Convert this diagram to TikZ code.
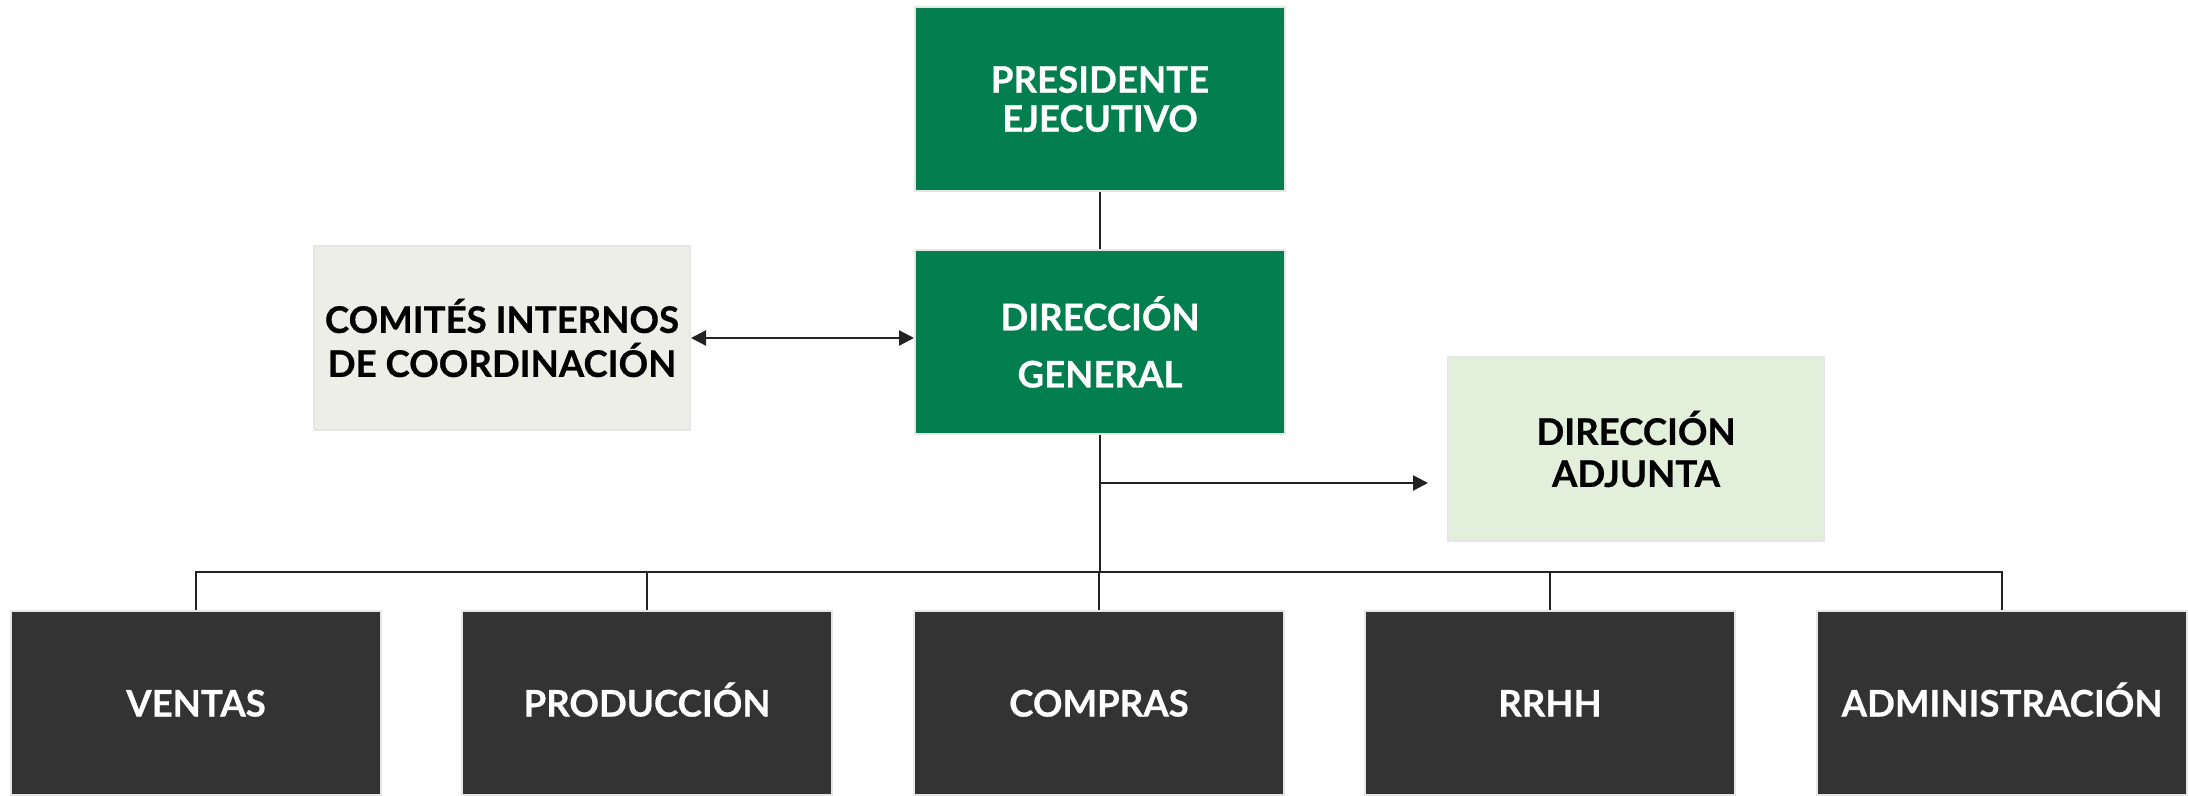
\documentclass[tikz,border=0pt]{standalone}
\usepackage{fontspec}
\setmainfont{Lato}[BoldFeatures={FakeBold=0.6}]
\usetikzlibrary{arrows.meta}
\definecolor{dgreen}{HTML}{037E4F}
\definecolor{lgray}{HTML}{EDEEE8}
\definecolor{lgreen}{HTML}{E2EFDA}
\definecolor{dgray}{HTML}{333333}
\definecolor{bordergray}{HTML}{E6E6E6}
\definecolor{linec}{HTML}{222222}
\tikzset{
  box/.style={rectangle, draw=bordergray, line width=1pt, minimum width=185pt, minimum height=92pt,
    inner sep=0pt, align=center, font=\fontsize{18.3}{20}\selectfont\bfseries},
  greenbox/.style={box, fill=dgreen, text=white},
  graybox/.style={box, fill=lgray, text=black, minimum width=188pt},
  lgreenbox/.style={box, fill=lgreen, text=black, minimum width=188pt},
  darkbox/.style={box, fill=dgray, text=white, text height=13.5pt, text depth=0pt},
  conn/.style={draw=linec, line width=1.2pt},
  arr/.style={conn, -{Triangle[length=7.5pt,width=7.5pt]}},
  darr/.style={conn, {Triangle[length=7.5pt,width=7.5pt]}-{Triangle[length=7.5pt,width=7.5pt]}}
}
\begin{document}
\begin{tikzpicture}[x=0.5pt,y=-0.5pt]
\useasboundingbox (0,0) rectangle (2188,796);
\node[greenbox, font=\fontsize{18.3}{19.5}\selectfont\bfseries] (pres) at (1100,99) {PRESIDENTE\\EJECUTIVO};
\node[greenbox, font=\fontsize{18.3}{28.6}\selectfont\bfseries] (dg) at (1100,342) {DIRECCIÓN\\GENERAL};
\node[graybox, font=\fontsize{18.3}{22}\selectfont\bfseries] (com) at (502,338) {COMITÉS INTERNOS\\DE COORDINACIÓN};
\node[lgreenbox, font=\fontsize{18.3}{21}\selectfont\bfseries] (adj) at (1636,449) {DIRECCIÓN\\ADJUNTA};
\node[darkbox] (ventas) at (196,703) {VENTAS};
\node[darkbox] (prod) at (647,703) {PRODUCCIÓN};
\node[darkbox] (compras) at (1099,703) {COMPRAS};
\node[darkbox] (rrhh) at (1550,703) {RRHH};
\node[darkbox] (admin) at (2002,703) {ADMINISTRACIÓN};
\coordinate (bus) at (1100,572);
\coordinate (branch) at (1100,483);
\coordinate (adjend) at (1428,483);
\draw[conn] (pres.south) -- (dg.north);
\draw[darr] (com.east) -- (com.east -| dg.west);
\draw[conn] (dg.south) -- (bus);
\draw[arr] (branch) -- (adjend);
\draw[conn] (ventas.north) |- (bus) -| (admin.north);
\draw[conn] (prod.north) |- (bus);
\draw[conn] (compras.north) |- (bus);
\draw[conn] (rrhh.north) |- (bus);
\end{tikzpicture}
\end{document}
